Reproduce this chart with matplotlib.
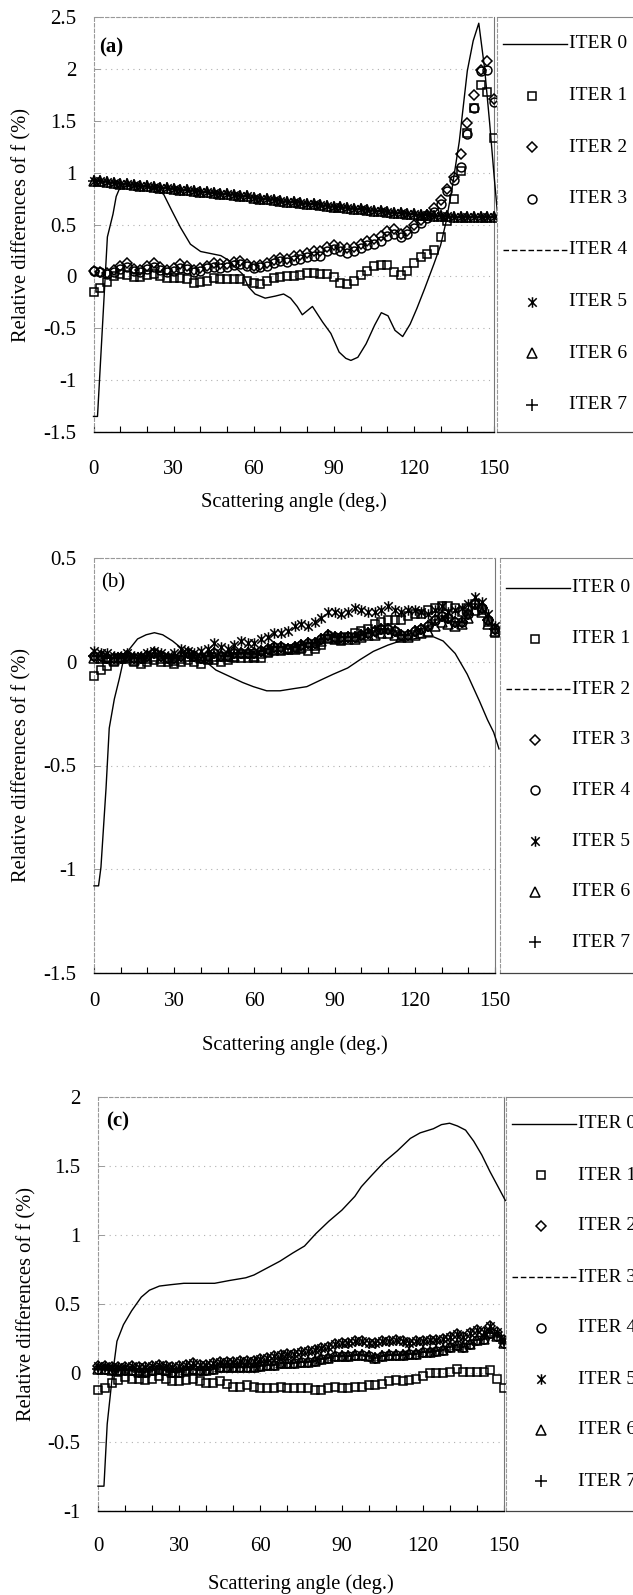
import matplotlib
matplotlib.use("Agg")
import matplotlib.pyplot as plt
from matplotlib.path import Path

plt.rcParams['font.family'] = ['Liberation Serif', 'DejaVu Serif']

# scattering angles of the iterated series (deg.)
angles = [0, 2.5, 5, 7.5, 10, 12.5, 15, 17.5, 20, 22.5,
          25, 27.5, 30, 32.5, 35, 37.5, 40, 42.5, 45, 47.5,
          50, 52.5, 55, 57.5, 60, 62.5, 65, 67.5, 70, 72.5,
          75, 77.5, 80, 82.5, 85, 87.5, 90, 92.5, 95, 97.5,
          100, 102.5, 105, 107.5, 110, 112.5, 115, 117.5, 120, 122.5,
          125, 127.5, 130, 132.5, 135, 137.5, 140, 142.5, 145, 147.5,
          150]

# ---- panel (a)
a_iter0_x = [0, 1.5, 5.2, 7.3, 8.5, 9.8, 11, 15, 20, 23.7, 26.3, 29.4, 32.6, 36.3,
             40.1, 43.9, 47.7, 50.9, 53.4, 55.9, 58, 60.5, 64.3, 68.1, 71.2, 73.8,
             76.3, 78.2, 80.1, 82, 85.8, 88.9, 92, 94.5, 96.4, 99, 102.1, 105.3,
             107.8, 110.3, 112.9, 115.8, 118.6, 121.1, 124, 127.5, 130, 132, 134.3,
             137, 140, 142.2, 144.3, 146.5, 148.4, 150, 151.5, 152.5]
a_iter0 = [-1.35, -1.35, 0.38, 0.60, 0.77, 0.85, 0.87, 0.87, 0.86, 0.84, 0.79, 0.63,
           0.47, 0.31, 0.24, 0.22, 0.20, 0.15, 0.08, 0.02, -0.10, -0.17, -0.21, -0.19,
           -0.17, -0.21, -0.29, -0.37, -0.33, -0.29, -0.44, -0.55, -0.73, -0.79, -0.81,
           -0.78, -0.65, -0.47, -0.35, -0.38, -0.52, -0.58, -0.46, -0.31, -0.12, 0.12,
           0.30, 0.52, 0.85, 1.30, 1.98, 2.27, 2.44, 2.00, 1.47, 0.98, 0.55, 0.30]
a_iter1 = [-0.15, -0.11, -0.05, 0.00, 0.02, 0.01, -0.01, -0.01, 0.01, 0.02,
           0.00, -0.02, -0.02, -0.02, -0.03, -0.06, -0.05, -0.04, -0.02, -0.03,
           -0.03, -0.03, -0.03, -0.04, -0.06, -0.07, -0.04, -0.02, -0.01, 0.00,
           0.00, 0.01, 0.03, 0.03, 0.02, 0.02, -0.01, -0.06, -0.07, -0.04,
           0.01, 0.05, 0.10, 0.11, 0.11, 0.04, 0.01, 0.05, 0.13, 0.19,
           0.22, 0.25, 0.38, 0.53, 0.75, 1.02, 1.38, 1.62, 1.84, 1.78,
           1.33]
a_iter2 = [0.05, 0.04, 0.03, 0.06, 0.10, 0.13, 0.07, 0.06, 0.10, 0.13,
           0.09, 0.06, 0.08, 0.12, 0.10, 0.06, 0.08, 0.10, 0.13, 0.12,
           0.12, 0.14, 0.15, 0.12, 0.10, 0.11, 0.13, 0.16, 0.18, 0.17,
           0.20, 0.21, 0.23, 0.24, 0.24, 0.28, 0.30, 0.28, 0.27, 0.28,
           0.31, 0.34, 0.36, 0.39, 0.44, 0.46, 0.41, 0.44, 0.50, 0.54,
           0.59, 0.66, 0.74, 0.84, 0.96, 1.18, 1.48, 1.75, 1.99, 2.08,
           1.71]
a_iter3 = [0.05, 0.04, 0.02, 0.04, 0.07, 0.09, 0.05, 0.04, 0.07, 0.09,
           0.06, 0.04, 0.05, 0.08, 0.07, 0.04, 0.05, 0.08, 0.09, 0.08,
           0.09, 0.11, 0.12, 0.10, 0.08, 0.09, 0.10, 0.13, 0.15, 0.14,
           0.16, 0.17, 0.19, 0.20, 0.20, 0.24, 0.26, 0.24, 0.23, 0.24,
           0.27, 0.30, 0.31, 0.34, 0.39, 0.41, 0.38, 0.41, 0.47, 0.51,
           0.56, 0.62, 0.70, 0.82, 0.93, 1.05, 1.37, 1.62, 1.98, 1.99,
           1.68]
# ITER 4..7 lie on top of each other
a_conv = [0.92, 0.92, 0.91, 0.90, 0.89, 0.89, 0.88, 0.87, 0.87, 0.86,
          0.85, 0.85, 0.84, 0.83, 0.83, 0.82, 0.81, 0.81, 0.80, 0.79,
          0.79, 0.78, 0.77, 0.77, 0.76, 0.75, 0.75, 0.74, 0.73, 0.72,
          0.72, 0.71, 0.70, 0.70, 0.69, 0.68, 0.67, 0.67, 0.66, 0.65,
          0.65, 0.64, 0.63, 0.63, 0.62, 0.61, 0.61, 0.60, 0.60, 0.59,
          0.59, 0.58, 0.58, 0.58, 0.57, 0.57, 0.57, 0.57, 0.57, 0.57,
          0.57]

# ---- panel (b)
b_iter0_x = [0, 1.7, 2.6, 4.5, 5.7, 7.6, 9.5, 10.7, 13.2, 16.3, 19.5, 22.6, 25.7, 29.4,
             33.2, 36.9, 41.9, 45.6, 50.6, 55.6, 59.6, 64.6, 69.6, 74.5, 79.6, 84.5,
             89.5, 94.9, 99.5, 104.5, 109.9, 114.5, 119.5, 123.5, 127, 130.6, 135.1,
             139.6, 144.2, 147.2, 149.5, 151.5]
b_iter0 = [-1.08, -1.08, -0.99, -0.61, -0.32, -0.18, -0.08, -0.01, 0.06, 0.11, 0.13,
           0.14, 0.13, 0.10, 0.06, 0.02, 0.00, -0.04, -0.07, -0.10, -0.12, -0.14,
           -0.14, -0.13, -0.12, -0.09, -0.06, -0.03, 0.01, 0.05, 0.08, 0.10, 0.11,
           0.12, 0.12, 0.10, 0.04, -0.06, -0.19, -0.28, -0.34, -0.42]
b_iter1 = [-0.07, -0.04, -0.02, 0.00, 0.02, 0.02, 0.00, -0.01, 0.00, 0.01,
           0.00, 0.00, -0.01, 0.00, 0.01, 0.00, -0.01, 0.01, 0.01, 0.00,
           0.01, 0.02, 0.02, 0.02, 0.02, 0.02, 0.04, 0.05, 0.05, 0.06,
           0.06, 0.06, 0.05, 0.06, 0.08, 0.11, 0.11, 0.10, 0.12, 0.14,
           0.15, 0.16, 0.18, 0.19, 0.20, 0.20, 0.20, 0.22, 0.23, 0.23,
           0.25, 0.26, 0.27, 0.27, 0.26, 0.24, 0.26, 0.28, 0.25, 0.19,
           0.14]
b_conv = [0.03, 0.03, 0.02, 0.02, 0.02, 0.03, 0.02, 0.02, 0.03, 0.04,
          0.03, 0.02, 0.02, 0.03, 0.04, 0.03, 0.02, 0.03, 0.04, 0.03,
          0.03, 0.04, 0.04, 0.04, 0.04, 0.05, 0.06, 0.07, 0.07, 0.06,
          0.07, 0.08, 0.09, 0.09, 0.11, 0.13, 0.12, 0.12, 0.12, 0.12,
          0.13, 0.14, 0.15, 0.16, 0.16, 0.15, 0.13, 0.13, 0.15, 0.16,
          0.17, 0.20, 0.22, 0.21, 0.19, 0.19, 0.23, 0.28, 0.26, 0.20,
          0.16]
b_iter5 = [0.05, 0.04, 0.04, 0.03, 0.03, 0.04, 0.03, 0.03, 0.04, 0.05,
           0.04, 0.03, 0.04, 0.06, 0.05, 0.04, 0.05, 0.06, 0.09, 0.07,
           0.06, 0.08, 0.10, 0.09, 0.09, 0.11, 0.12, 0.14, 0.14, 0.15,
           0.17, 0.18, 0.17, 0.19, 0.21, 0.24, 0.24, 0.23, 0.24, 0.26,
           0.25, 0.24, 0.24, 0.25, 0.27, 0.25, 0.24, 0.25, 0.25, 0.24,
           0.23, 0.25, 0.27, 0.24, 0.25, 0.26, 0.28, 0.31, 0.29, 0.23,
           0.17]
b_iter6 = [0.02, 0.02, 0.02, 0.01, 0.02, 0.02, 0.01, 0.02, 0.02, 0.03,
           0.02, 0.02, 0.01, 0.02, 0.03, 0.03, 0.02, 0.02, 0.03, 0.03,
           0.03, 0.03, 0.04, 0.04, 0.03, 0.04, 0.05, 0.06, 0.06, 0.06,
           0.06, 0.07, 0.08, 0.08, 0.10, 0.12, 0.11, 0.11, 0.11, 0.11,
           0.12, 0.13, 0.13, 0.14, 0.14, 0.13, 0.12, 0.12, 0.13, 0.14,
           0.15, 0.17, 0.19, 0.18, 0.17, 0.18, 0.21, 0.25, 0.24, 0.18,
           0.15]

# ---- panel (c)
c_iter0_x = [0, 2.2, 3.4, 5.2, 7, 9.4, 12.4, 16, 19, 22.7, 26.9, 31.7, 37.7, 43.1, 48.5,
             54.6, 57.6, 62.4, 67.2, 72, 76.3, 80.5, 85.3, 90.1, 94.9, 97.3, 101, 105.8,
             110.6, 115.4, 119, 123.9, 126.9, 129.9, 132.8, 135.8, 138.8, 141.8, 144.8,
             147.8, 150.5]
c_iter0 = [-0.82, -0.82, -0.37, -0.04, 0.23, 0.35, 0.45, 0.55, 0.60, 0.63, 0.64, 0.65,
           0.65, 0.65, 0.67, 0.69, 0.71, 0.76, 0.81, 0.87, 0.92, 1.01, 1.10, 1.18, 1.28,
           1.35, 1.43, 1.53, 1.61, 1.70, 1.74, 1.77, 1.80, 1.81, 1.79, 1.76, 1.68, 1.58,
           1.46, 1.35, 1.25]
c_iter1 = [-0.12, -0.11, -0.07, -0.05, -0.03, -0.04, -0.04, -0.05, -0.04, -0.02,
           -0.04, -0.06, -0.06, -0.05, -0.04, -0.06, -0.07, -0.07, -0.06, -0.08,
           -0.10, -0.10, -0.09, -0.10, -0.11, -0.11, -0.11, -0.10, -0.11, -0.11,
           -0.11, -0.11, -0.12, -0.12, -0.11, -0.10, -0.11, -0.11, -0.10, -0.10,
           -0.09, -0.09, -0.08, -0.06, -0.05, -0.06, -0.05, -0.04, -0.02, 0.00,
           0.00, 0.00, 0.01, 0.03, 0.01, 0.01, 0.01, 0.01, 0.02, -0.04,
           -0.11]
c_upper = [0.05, 0.05, 0.04, 0.04, 0.04, 0.05, 0.04, 0.04, 0.05, 0.06,
           0.05, 0.04, 0.05, 0.06, 0.07, 0.06, 0.06, 0.07, 0.08, 0.08,
           0.08, 0.09, 0.09, 0.09, 0.10, 0.11, 0.12, 0.13, 0.14, 0.14,
           0.15, 0.16, 0.17, 0.18, 0.19, 0.21, 0.22, 0.22, 0.23, 0.23,
           0.22, 0.22, 0.23, 0.23, 0.24, 0.23, 0.22, 0.23, 0.23, 0.24,
           0.24, 0.25, 0.26, 0.28, 0.26, 0.29, 0.31, 0.30, 0.34, 0.30,
           0.24]
c_lower = [0.03, 0.03, 0.02, 0.02, 0.02, 0.02, 0.01, 0.01, 0.02, 0.03,
           0.02, 0.01, 0.01, 0.02, 0.03, 0.02, 0.02, 0.03, 0.04, 0.04,
           0.04, 0.04, 0.04, 0.04, 0.05, 0.06, 0.06, 0.07, 0.07, 0.07,
           0.08, 0.08, 0.09, 0.10, 0.11, 0.12, 0.12, 0.12, 0.13, 0.13,
           0.12, 0.11, 0.12, 0.13, 0.13, 0.13, 0.14, 0.14, 0.15, 0.15,
           0.16, 0.17, 0.19, 0.20, 0.19, 0.21, 0.24, 0.25, 0.29, 0.27,
           0.22]

a_yticks = [-1.5, -1, -0.5, 0, 0.5, 1, 1.5, 2, 2.5]
a_ylabels = ['-1.5', '-1', '-0.5', '0', '0.5', '1', '1.5', '2', '2.5']
b_yticks = [-1.5, -1, -0.5, 0, 0.5]
b_ylabels = ['-1.5', '-1', '-0.5', '0', '0.5']
c_yticks = [-1, -0.5, 0, 0.5, 1, 1.5, 2]
c_ylabels = ['-1', '-0.5', '0', '0.5', '1', '1.5', '2']

W, H = 633, 1595
fig = plt.figure(figsize=(W / 100, H / 100), dpi=100)

star = Path([(-1, -1), (1, 1), (-1, 1), (1, -1), (0, -1.25), (0, 1.25)],
            [Path.MOVETO, Path.LINETO, Path.MOVETO, Path.LINETO, Path.MOVETO, Path.LINETO])
styles = {
    'solid': dict(marker=None, ls='-'),
    'dash': dict(marker=None, ls=(0, (4, 2))),
    'sq': dict(marker='s', ms=6.3),
    'dia': dict(marker='D', ms=5.6),
    'circ': dict(marker='o', ms=6.4),
    'star': dict(marker=star, ms=7.6),
    'tri': dict(marker='^', ms=7.0),
    'plus': dict(marker='+', ms=8.5),
}


def rect(x0, x1, y0, y1):
    return [x0 / W, 1 - y1 / H, (x1 - x0) / W, (y1 - y0) / H]


def draw_panel(p, series):
    ax = fig.add_axes(rect(p['x0'], p['x150'], p['top'], p['bot']))
    ax.set_xlim(0, 150)
    ax.set_ylim(p['yticks'][0], p['yticks'][-1])
    for name, kind, xs, ys in series:
        st = styles[kind]
        if st['marker'] is None:
            ax.plot(xs, ys, color='black', lw=1.0, ls=st['ls'], clip_on=False, zorder=4)
        else:
            ax.plot(xs, ys, ls='none', marker=st['marker'], ms=st['ms'], mfc='none',
                    mec='black', mew=1.1, clip_on=False, zorder=3)

    ax.set_xticks(range(0, 151, 10))
    ax.set_xticklabels([str(v) if v % 30 == 0 else '' for v in range(0, 151, 10)])
    ax.set_yticks(p['yticks'])
    ax.set_yticklabels(p['ylabels'])
    ax.tick_params(axis='x', direction='in', length=4, width=0.8, pad=p['xpad'], labelsize=15)
    ax.tick_params(axis='y', direction='in', length=4, width=0.6, color='#888888', pad=12.5,
                   labelsize=15)
    ax.grid(axis='y', color='#b0b0b0', lw=0.8, ls=(0, (1, 4)))
    ax.set_axisbelow(True)
    ax.spines['bottom'].set(color='black', lw=1.0)
    for s in ('left', 'top'):
        ax.spines[s].set(color='#999999', lw=0.8, ls=(0, (3, 2)))
    ax.spines['right'].set(color='#777777', lw=0.8)

    fig.text(p['tag_x'] / W, 1 - p['tag_y'] / H, p['tag'], ha='left', va='center',
             fontsize=15, fontweight=p['tag_w'])
    fig.text(p['ylab_x'] / W, 1 - (p['top'] + p['bot']) / 2 / H, 'Relative differences of f (%)',
             rotation=90, ha='center', va='center', fontsize=14.8)
    fig.text((p['x0'] + p['x150']) / 2 / W, 1 - p['xlab_y'] / H, 'Scattering angle (deg.)',
             ha='center', va='center', fontsize=14.8)

    # legend box, running off the right edge of the page
    left = p['leg_left']
    lg = fig.add_axes(rect(left, 700, p['top'], p['bot']))
    lg.set_xlim(0, 700 - left)
    lg.set_ylim(p['bot'], p['top'])
    lg.set_xticks([])
    lg.set_yticks([])
    lg.spines['left'].set(color='#999999', lw=0.8, ls=(0, (3, 2)))
    lg.spines['top'].set(color='#888888', lw=0.8)
    lg.spines['bottom'].set(color='#444444', lw=0.9)
    lg.spines['right'].set_visible(False)
    for i, (name, kind, xs, ys) in enumerate(series):
        y = p['leg_y0'] + i * p['leg_step']
        st = styles[kind]
        if st['marker'] is None:
            lg.plot([6, 70], [y, y], color='black', lw=1.0, ls=st['ls'])
        else:
            lg.plot([35], [y], ls='none', marker=st['marker'], ms=st['ms'], mfc='none',
                    mec='black', mew=1.1)
        lg.text(72, y, name, ha='left', va='center', fontsize=14)


panel_a = dict(tag='(a)', tag_w='bold', tag_x=99, tag_y=47, x0=93.5, x150=494, top=17, bot=432,
               yticks=a_yticks, ylabels=a_ylabels, xpad=20, ylab_x=22, xlab_y=502,
               leg_left=497, leg_y0=44, leg_step=51.5)
series_a = [('ITER 0', 'solid', a_iter0_x, a_iter0),
            ('ITER 1', 'sq', angles, a_iter1),
            ('ITER 2', 'dia', angles, a_iter2),
            ('ITER 3', 'circ', angles, a_iter3),
            ('ITER 4', 'dash', angles, a_conv),
            ('ITER 5', 'star', angles, a_conv),
            ('ITER 6', 'tri', angles, a_conv),
            ('ITER 7', 'plus', angles, a_conv)]

panel_b = dict(tag='(b)', tag_w='normal', tag_x=101, tag_y=583, x0=94, x150=495, top=558, bot=973,
               yticks=b_yticks, ylabels=b_ylabels, xpad=14, ylab_x=22, xlab_y=1045,
               leg_left=500, leg_y0=588, leg_step=50.6)
series_b = [('ITER 0', 'solid', b_iter0_x, b_iter0),
            ('ITER 1', 'sq', angles, b_iter1),
            ('ITER 2', 'dash', angles, b_conv),
            ('ITER 3', 'dia', angles, b_conv),
            ('ITER 4', 'circ', angles, b_conv),
            ('ITER 5', 'star', angles, b_iter5),
            ('ITER 6', 'tri', angles, b_iter6),
            ('ITER 7', 'plus', angles, b_conv)]

panel_c = dict(tag='(c)', tag_w='bold', tag_x=106, tag_y=1121, x0=98, x150=504, top=1097, bot=1511,
               yticks=c_yticks, ylabels=c_ylabels, xpad=19, ylab_x=27, xlab_y=1584,
               leg_left=506, leg_y0=1124, leg_step=51)
series_c = [('ITER 0', 'solid', c_iter0_x, c_iter0),
            ('ITER 1', 'sq', angles, c_iter1),
            ('ITER 2', 'dia', angles, c_upper),
            ('ITER 3', 'dash', angles, c_lower),
            ('ITER 4', 'circ', angles, c_lower),
            ('ITER 5', 'star', angles, c_upper),
            ('ITER 6', 'tri', angles, c_lower),
            ('ITER 7', 'plus', angles, c_lower)]

draw_panel(panel_a, series_a)
draw_panel(panel_b, series_b)
draw_panel(panel_c, series_c)

fig.savefig('out.png', dpi=100)
